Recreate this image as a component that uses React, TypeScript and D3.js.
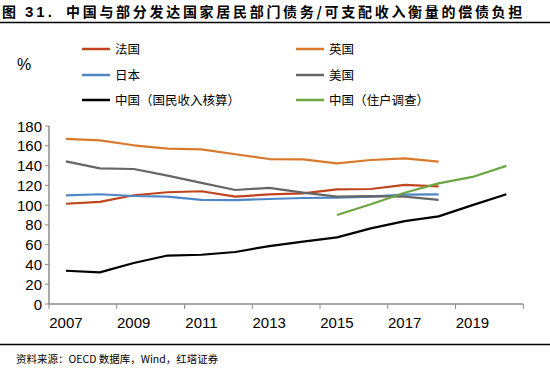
import React from "react";
import * as d3 from "d3";

const years = [2007, 2008, 2009, 2010, 2011, 2012, 2013, 2014, 2015, 2016, 2017, 2018, 2019, 2020];
const tickYears = [2007, 2009, 2011, 2013, 2015, 2017, 2019];
const yTicks = [0, 20, 40, 60, 80, 100, 120, 140, 160, 180];

const france = [101.4, 103.2, 110, 113, 114, 108.5, 110.8, 111.8, 116, 116.3, 120.4, 119];
const uk = [167, 165.5, 160.5, 157.2, 156.3, 151.4, 146.6, 146.3, 142.2, 145.6, 147.2, 143.9];
const japan = [109.8, 111, 109.2, 108.5, 105.2, 105, 106.2, 107.2, 107.6, 108.5, 110.6, 110.8];
const usa = [144.2, 137.2, 136.5, 129.8, 122.5, 115.3, 117.4, 112.6, 108.5, 109, 108.5, 105.2];
const chinaNA = [33.6, 32, 41.5, 49, 49.8, 52.6, 58.6, 63, 67.4, 76.5, 83.8, 88.6, 100, 111];
const chinaSurvey = [90, 100.8, 112.5, 122, 128.5, 139.7];
const chinaSurveyYears = [2015, 2016, 2017, 2018, 2019, 2020];

const seriesNames = ["法国", "英国", "日本", "美国", "中国（国民收入核算）", "中国（住户调查）"];
const colors = ["#C0441E", "#D9792B", "#4F86C6", "#666666", "#000000", "#6CA542"];

export default function App() {
  const W = 550, H = 375;
  const left = 49, right = 523.3, top = 126, bottom = 304;
  const x = d3.scaleBand<number>().domain(years).range([left, right]).padding(0);
  const y = d3.scaleLinear().domain([0, 180]).range([bottom, top]);
  const cx = (yr: number) => (x(yr) as number) + x.bandwidth() / 2;
  const line = d3.line<[number, number]>().x((d) => cx(d[0])).y((d) => y(d[1]));

  const series: [number, number][][] = [
    france.map((v, i) => [years[i], v]),
    uk.map((v, i) => [years[i], v]),
    japan.map((v, i) => [years[i], v]),
    usa.map((v, i) => [years[i], v]),
    chinaNA.map((v, i) => [years[i], v]),
    chinaSurvey.map((v, i) => [chinaSurveyYears[i], v]),
  ];

  const tickXs = d3.range(0, years.length + 1, 2).map((i) => left + i * x.bandwidth());
  const axisColor = "#8c8c8c";
  const legendPos = [
    [82, 49], [296, 49],
    [82, 75], [296, 75],
    [82, 100], [296, 100],
  ];
  const cjk = "'Noto Sans CJK SC', sans-serif";
  const lat = "'Liberation Sans', Arial, sans-serif";

  return (
    <svg width={W} height={H} style={{ position: "absolute", left: 0, top: 0, background: "#fff" }}>
      <text x={2} y={17} fontFamily={cjk} fontWeight={700} fontSize={14} fill="#000">图</text>
      <text x={25} y={17} fontFamily={lat} fontWeight={700} fontSize={15} letterSpacing={3} fill="#000">31.</text>
      <text x={66} y={17} fontFamily={cjk} fontWeight={700} fontSize={14} letterSpacing={2.7} fill="#000">
        中国与部分发达国家居民部门债务/可支配收入衡量的偿债负担
      </text>
      <line x1={0} x2={550} y1={22.5} y2={22.5} stroke="#000" strokeWidth={1.5} />

      <text x={17} y={70} fontFamily={lat} fontSize={16} fill="#000">%</text>

      {seriesNames.map((n, i) => (
        <g key={n}>
          <line x1={legendPos[i][0]} x2={legendPos[i][0] + 28} y1={legendPos[i][1]} y2={legendPos[i][1]}
            stroke={colors[i]} strokeWidth={2.5} />
          <text x={legendPos[i][0] + 33} y={legendPos[i][1] + 4.5} fontFamily={cjk} fontSize={12.5} fill="#000">{n}</text>
        </g>
      ))}

      {/* axes */}
      <line x1={left} x2={left} y1={top} y2={bottom} stroke={axisColor} strokeWidth={1.5} />
      <line x1={left} x2={right} y1={bottom} y2={bottom} stroke={axisColor} strokeWidth={1.5} />
      {yTicks.map((t) => (
        <g key={t}>
          <line x1={left - 4} x2={left} y1={y(t)} y2={y(t)} stroke={axisColor} strokeWidth={1} />
          <text x={42} y={y(t) + 5.5} textAnchor="end" fontFamily={lat} fontSize={15} fill="#000">{t}</text>
        </g>
      ))}
      {tickXs.map((tx, i) => (
        <line key={i} x1={tx} x2={tx} y1={bottom} y2={bottom + 5} stroke={axisColor} strokeWidth={1} />
      ))}
      {tickYears.map((yr) => (
        <text key={yr} x={cx(yr)} y={328} textAnchor="middle" fontFamily={lat} fontSize={15} fill="#000">{yr}</text>
      ))}

      {series.map((s, i) => (
        <path key={i} d={line(s) || ""} fill="none" stroke={colors[i]} strokeWidth={2.2} strokeLinejoin="round" />
      ))}

      <line x1={0} x2={550} y1={344.5} y2={344.5} stroke="#000" strokeWidth={1.5} />
      <text x={16} y={363} fontFamily={cjk} fontSize={10.5} fill="#000">
        资料来源：OECD 数据库，Wind，红塔证券
      </text>
    </svg>
  );
}
